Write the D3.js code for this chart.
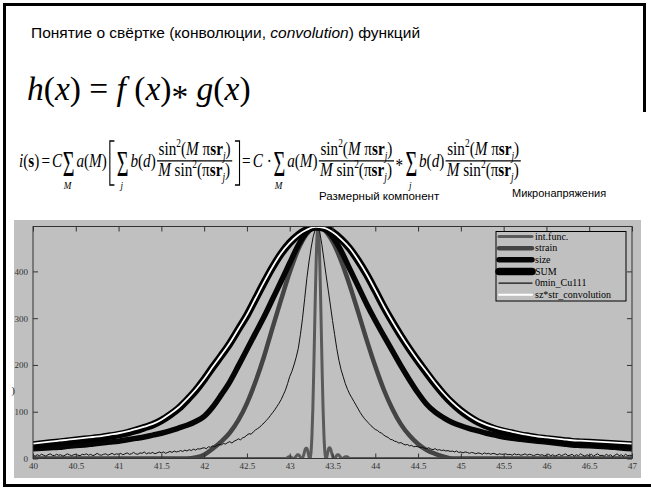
<!DOCTYPE html>
<html>
<head>
<meta charset="utf-8">
<script src="https://cdn.jsdelivr.net/npm/d3@7"></script>
<style>
  html, body { margin: 0; padding: 0; background: #fff; }
  svg { display: block; }
</style>
</head>
<body>
<script>
// ---------------- data ----------------
const xTicks = [40, 40.5, 41, 41.5, 42, 42.5, 43, 43.5, 44, 44.5, 45, 45.5, 46, 46.5, 47];
const yTicks = [0, 100, 200, 300, 400];
const seriesNames = ["int.func.", "strain", "size", "SUM", "0min_Cu111", "sz*str_convolution"];

// broad profiles, sampled every 0.1 deg from 40 to 47
const profileStart = 40, profileStep = 0.1;
const sumVals = [
  29, 31, 33, 35, 37, 39, 41, 43, 45, 48,
  51, 55, 60, 66, 72, 81, 93, 107, 125, 145,
  169, 195, 220, 246, 276, 306, 341, 376, 409, 438,
  461, 478, 489, 495, 493, 484, 469, 449, 423, 393,
  359, 324, 292, 262, 234, 208, 183, 159, 137, 118,
  102, 89, 78, 70, 63, 58, 54, 50, 47, 44,
  42, 40, 38, 36, 35, 34, 33, 32, 31, 30, 29
];
const convVals = [
  32, 34, 36, 38, 40, 42, 44, 46, 48, 51,
  54, 58, 63, 68, 74, 83, 95, 109, 127, 147,
  170, 196, 221, 247, 277, 307, 342, 377, 410, 439,
  461, 478, 489, 495, 493, 484, 469, 450, 424, 394,
  360, 325, 293, 263, 235, 209, 185, 161, 139, 120,
  104, 91, 80, 72, 66, 61, 57, 53, 50, 47,
  45, 43, 41, 39, 38, 37, 36, 35, 34, 33, 32
];
const sizeVals = [
  21, 22, 23, 24, 26, 28, 29, 31, 33, 35,
  37, 40, 43, 46, 50, 54, 59, 65, 71, 79,
  90, 110, 136, 164, 198, 233, 268, 303, 341, 379,
  418, 456, 484, 495, 491, 474, 444, 406, 368, 330,
  295, 262, 230, 198, 168, 140, 116, 99, 87, 77,
  70, 64, 59, 54, 50, 46, 43, 41, 39, 37,
  35, 33, 31, 29, 28, 27, 26, 25, 24, 22, 21
];
const strainVals = [
  0, 0, 0, 0, 0, 0, 0, 0, 0, 0,
  0, 0, 0, 0, 0, 0, 0, 0, 0, 2,
  8, 21, 36, 55, 82, 118, 164, 218, 280, 340,
  398, 447, 480, 495, 489, 464, 423, 371, 313, 253,
  197, 147, 106, 73, 49, 31, 18, 10, 4, 0,
  0, 0, 0, 0, 0, 0, 0, 0, 0, 0,
  0, 0, 0, 0, 0, 0, 0, 0, 0, 0, 0
];

// instrumental function around the peak, every 0.01 deg from 42.95
const instrStart = 42.95, instrStep = 0.01;
const instrVals = [
  0, 0, 1, 3, 4, 4, 4, 2, 1, 0,
  0, 1, 4, 6, 8, 8, 7, 4, 1, 0,
  1, 6, 12, 19, 22, 22, 17, 8, 1, 2,
  16, 50, 105, 180, 266, 353, 427, 477, 495, 477,
  427, 353, 266, 180, 105, 50, 16, 2, 1, 9,
  18, 23, 23, 19, 12, 6, 1, 0, 1, 4,
  7, 8, 8, 6, 4, 1, 0, 0, 1, 3,
  4, 4, 4, 3, 1, 0, 0
];

// measured pattern 0min_Cu111, every 0.025 deg from 40 to 47
const expStart = 40, expStep = 0.025;
const expVals = [
  7, 5, 8, 6, 9, 7, 5, 8, 10, 7, 6, 9, 7, 8, 5, 7, 10, 8, 6, 8,
  9, 7, 6, 9, 8, 10, 7, 9, 6, 8, 11, 8, 7, 9, 10, 7, 9, 11, 8, 10,
  9, 11, 8, 10, 12, 9, 10, 13, 10, 9, 12, 11, 14, 10, 12, 11, 13, 10, 12, 14,
  12, 14, 11, 13, 15, 13, 16, 14, 15, 17, 15, 18, 16, 19, 17, 20, 18, 21, 20, 22,
  23, 21, 25, 24, 27, 25, 28, 30, 29, 32, 31, 34, 36, 33, 37, 39, 42, 40, 44, 46,
  50, 53, 52, 57, 61, 64, 67, 72, 76, 81, 86, 92, 98, 104, 111, 118, 126, 136, 146, 160,
  175, 186, 200, 216, 235, 265, 300, 342, 385, 420, 450, 475, 490, 495, 485, 458, 425, 392, 360, 328,
  295, 265, 235, 210, 190, 175, 160, 148, 138, 130, 122, 114, 106, 98, 91, 85, 80, 75, 70, 66,
  62, 60, 56, 54, 50, 47, 45, 41, 40, 37, 36, 33, 34, 31, 29, 30, 27, 28, 25, 26,
  25, 23, 24, 22, 21, 23, 20, 19, 21, 18, 19, 17, 18, 16, 17, 15, 16, 14, 16, 13,
  14, 12, 14, 13, 11, 13, 12, 10, 12, 11, 9, 12, 10, 11, 9, 11, 10, 8, 10, 9,
  9, 10, 8, 9, 7, 10, 8, 9, 7, 8, 10, 7, 9, 8, 6, 8, 9, 7, 8, 6,
  7, 9, 6, 8, 5, 7, 9, 6, 8, 10, 6, 7, 9, 5, 8, 6, 10, 7, 5, 8,
  6, 9, 5, 8, 10, 6, 7, 5, 9, 6, 8, 4, 7, 10, 6, 8, 5, 9, 6, 7,
  6
];

// ---------------- helpers ----------------
const toPoints = (start, step, vals) => vals.map((v, i) => [+(start + i * step).toFixed(3), v]);
const serif = "'Liberation Serif','Times New Roman',Times,serif";
const sans = "'Liberation Sans',Arial,Helvetica,sans-serif";

const W = 651, H = 490;
const svg = d3.select("body").append("svg").attr("width", W).attr("height", H);
svg.append("rect").attr("width", W).attr("height", H).attr("fill", "#fff");

// ---------------- slide frame ----------------
const frame = svg.append("g").attr("stroke", "#000").attr("stroke-width", 3);
frame.append("line").attr("x1", 4.5).attr("y1", 3).attr("x2", 4.5).attr("y2", 487);
frame.append("line").attr("x1", 3).attr("y1", 4.5).attr("x2", 646).attr("y2", 4.5);
frame.append("line").attr("x1", 644.5).attr("y1", 3).attr("x2", 644.5).attr("y2", 112);
frame.append("line").attr("x1", 3).attr("y1", 485.5).attr("x2", 651).attr("y2", 485.5);

// ---------------- title ----------------
const title = svg.append("text").attr("x", 31).attr("y", 37.5)
  .attr("font-family", sans).attr("font-size", 15.5).attr("fill", "#000");
title.append("tspan").text("Понятие о свёртке (конволюции, ");
title.append("tspan").attr("font-style", "italic").text("convolution");
title.append("tspan").text(") функций");

// ---------------- text runs with italics, bold, indices ----------------
function textRun(g, x, y, segs, size) {
  const t = g.append("text").attr("x", x).attr("y", y)
    .attr("font-family", serif).attr("font-size", size).attr("fill", "#000");
  let shift = 0;
  segs.forEach(s => {
    const sp = t.append("tspan").text(s.t);
    if (s.i) sp.attr("font-style", "italic");
    if (s.b) sp.attr("font-weight", "bold");
    let target = 0;
    if (s.sup) { target = -0.42 * size; sp.attr("font-size", 0.62 * size); }
    if (s.sub) { target = 0.24 * size; sp.attr("font-size", 0.62 * size); }
    if (s.low) { target = s.low * size; }
    if (target !== shift) { sp.attr("dy", target - shift); shift = target; }
  });
  return t;
}
const widthOf = t => t.node().getBBox().width;

// h(x) = f(x) * g(x)
textRun(svg, 27, 100, [
  { t: "h", i: 1 }, { t: "(" }, { t: "x", i: 1 }, { t: ") = " },
  { t: "f", i: 1 }, { t: " (" }, { t: "x", i: 1 }, { t: ")" },
  { t: "*", low: 0.24 }, { t: " " },
  { t: "g", i: 1 }, { t: "(" }, { t: "x", i: 1 }, { t: ")" }
], 33.5);

// ---------------- long formula ----------------
const numSegs = [{ t: "sin" }, { t: "2", sup: 1 }, { t: "(" }, { t: "M", i: 1 }, { t: " \u03c0" },
  { t: "s", b: 1 }, { t: "r", b: 1 }, { t: "j", i: 1, sub: 1 }, { t: ")" }];
const denSegs = [{ t: "M", i: 1 }, { t: " sin" }, { t: "2", sup: 1 }, { t: "(\u03c0" },
  { t: "s", b: 1 }, { t: "r", b: 1 }, { t: "j", i: 1, sub: 1 }, { t: ")" }];

function buildFormula(g, x0, y0, f) {
  let cx = x0;
  const adv = (w, gap) => { cx += w + (gap || 0) * f; };
  const put = (segs, gap) => { const t = textRun(g, cx, y0, segs, f); adv(widthOf(t), gap); };
  const sigma = (sub) => {
    const sx = 0.7;
    const s = g.append("text").attr("font-family", serif).attr("font-size", 1.9 * f)
      .attr("transform", `translate(${cx},${y0 + 0.45 * f}) scale(${sx},1)`).text("\u03a3");
    const w = widthOf(s) * sx;
    const t = textRun(g, 0, y0 + 1.14 * f, [{ t: sub, i: 1 }], 0.6 * f);
    t.attr("x", cx + (w - widthOf(t)) / 2);
    adv(w, 0.12);
  };
  const bracket = (open) => {
    const top = y0 - 1.37 * f, bot = y0 + 0.95 * f, bw = 0.3 * f;
    const xa = open ? cx + 0.08 * f : cx + 0.08 * f + bw;
    const xb = open ? xa + bw : xa - bw;
    g.append("path").attr("d", `M${xb},${top}H${xa}V${bot}H${xb}`)
      .attr("fill", "none").attr("stroke", "#000").attr("stroke-width", 1.1);
    adv(bw, 0.24);
  };
  const frac = () => {
    const bar = y0 - 0.32 * f;
    const n = textRun(g, 0, bar - 0.3 * f, numSegs, f);
    const d = textRun(g, 0, bar + 0.8 * f, denSegs, f);
    const wn = widthOf(n), wd = widthOf(d);
    const w = Math.max(wn, wd) + 0.16 * f;
    n.attr("x", cx + (w - wn) / 2);
    d.attr("x", cx + (w - wd) / 2);
    g.append("line").attr("x1", cx).attr("x2", cx + w).attr("y1", bar).attr("y2", bar)
      .attr("stroke", "#000").attr("stroke-width", 0.9);
    adv(w, 0.1);
  };

  put([{ t: "i", i: 1 }, { t: "(" }, { t: "s", b: 1 }, { t: ")" }], 0.15);
  put([{ t: "=" }], 0.12);
  put([{ t: "C", i: 1 }], 0.02);
  sigma("M");
  put([{ t: "a", i: 1 }, { t: "(" }, { t: "M", i: 1 }, { t: ")" }], 0.12);
  bracket(true);
  sigma("j");
  put([{ t: "b", i: 1 }, { t: "(" }, { t: "d", i: 1 }, { t: ")" }], 0.08);
  frac();
  bracket(false);
  put([{ t: "=" }], 0.15);
  put([{ t: "C", i: 1 }, { t: " \u00b7 " }], 0.12);
  sigma("M");
  put([{ t: "a", i: 1 }, { t: "(" }, { t: "M", i: 1 }, { t: ")" }], 0.08);
  frac();
  put([{ t: "*", low: 0.24 }], 0.15);
  sigma("j");
  put([{ t: "b", i: 1 }, { t: "(" }, { t: "d", i: 1 }, { t: ")" }], 0.08);
  frac();
  return cx - x0;
}

// font size chosen so the formula spans x0..x1; its height is kept at a 19px body
const fx0 = 19, fx1 = 522, fy0 = 167, vUnit = 19;
let fg = svg.append("g");
const natural = buildFormula(fg, fx0, fy0, 19);
fg.remove();
const fSize = 19 * (fx1 - fx0) / natural;
fg = svg.append("g").attr("transform", `translate(0,${fy0}) scale(1,${vUnit / fSize}) translate(0,${-fy0})`);
buildFormula(fg, fx0, fy0, fSize);

svg.append("text").attr("x", 319).attr("y", 199.5).attr("font-family", sans)
  .attr("font-size", 11.5).attr("fill", "#000").text("Размерный компонент");
svg.append("text").attr("x", 512).attr("y", 197).attr("font-family", sans)
  .attr("font-size", 11).attr("fill", "#000").text("Микронапряжения");

// ---------------- chart ----------------
const panel = { x: 14, y: 220, w: 627, h: 258 };
const plot = { l: 33, r: 632, t: 226.5, b: 458.5 };
const grey = "#c0c0c0";

svg.append("rect").attr("x", panel.x).attr("y", panel.y).attr("width", panel.w)
  .attr("height", panel.h).attr("fill", grey);

const x = d3.scaleLinear().domain([40, 47]).range([plot.l, plot.r]);
const y = d3.scaleLinear().domain([0, 496]).range([plot.b, plot.t]);

svg.append("clipPath").attr("id", "plotClip").append("rect")
  .attr("x", plot.l).attr("y", plot.t).attr("width", plot.r - plot.l).attr("height", plot.b - plot.t);

const series = [
  { name: seriesNames[0], pts: [[40, 0], ...toPoints(instrStart, instrStep, instrVals), [47, 0]], color: "#5a5a5a", w: 3, curve: d3.curveMonotoneX, lw: 3 },
  { name: seriesNames[1], pts: toPoints(profileStart, profileStep, strainVals), color: "#444", w: 4.5, curve: d3.curveMonotoneX, lw: 4.5 },
  { name: seriesNames[2], pts: toPoints(profileStart, profileStep, sizeVals), color: "#050505", w: 5.5, curve: d3.curveMonotoneX, lw: 5.5 },
  { name: seriesNames[3], pts: toPoints(profileStart, profileStep, sumVals), color: "#000", w: 7.5, curve: d3.curveMonotoneX, lw: 7.5 },
  { name: seriesNames[4], pts: toPoints(expStart, expStep, expVals), color: "#111", w: 1, curve: d3.curveLinear, lw: 1.4 },
  { name: seriesNames[5], pts: toPoints(profileStart, profileStep, convVals), color: "#fff", w: 1.8, curve: d3.curveMonotoneX, lw: 2 }
];

const lines = svg.append("g").attr("clip-path", "url(#plotClip)");
series.forEach(s => {
  lines.append("path").datum(s.pts)
    .attr("d", d3.line().x(d => x(d[0])).y(d => y(d[1])).curve(s.curve))
    .attr("fill", "none").attr("stroke", s.color).attr("stroke-width", s.w)
    .attr("stroke-linejoin", "round");
});

// axes with inward ticks on all four sides
const axisColor = "#333";
function styleAxis(g) {
  g.select(".domain").remove();
  g.selectAll(".tick line").attr("stroke", axisColor);
  g.selectAll(".tick text").attr("font-family", serif).attr("font-size", 9).attr("fill", "#333");
}
svg.append("g").attr("transform", `translate(0,${plot.b})`)
  .call(d3.axisBottom(x).tickValues(xTicks).tickSize(-5).tickPadding(4).tickFormat(d => String(d)))
  .call(styleAxis);
svg.append("g").attr("transform", `translate(0,${plot.t})`)
  .call(d3.axisTop(x).tickValues(xTicks).tickSize(-5).tickFormat(""))
  .call(styleAxis);
svg.append("g").attr("transform", `translate(${plot.l},0)`)
  .call(d3.axisLeft(y).tickValues(yTicks).tickSize(-5).tickPadding(5).tickFormat(d => String(d)))
  .call(styleAxis);
svg.append("g").attr("transform", `translate(${plot.r},0)`)
  .call(d3.axisRight(y).tickValues(yTicks).tickSize(-5).tickFormat(""))
  .call(styleAxis);
svg.append("rect").attr("x", plot.l).attr("y", plot.t).attr("width", plot.r - plot.l)
  .attr("height", plot.b - plot.t).attr("fill", "none").attr("stroke", axisColor).attr("stroke-width", 1);

// fragment of the y axis label
svg.append("text").attr("x", 13).attr("y", 394).attr("text-anchor", "middle")
  .attr("font-family", serif).attr("font-size", 11).attr("fill", "#222").text(")");

// legend
const leg = { x: 496, y: 231.5, w: 130, h: 69.5, row0: 236.5, dy: 11.65 };
const lg = svg.append("g");
lg.append("rect").attr("x", leg.x).attr("y", leg.y).attr("width", leg.w).attr("height", leg.h)
  .attr("fill", grey).attr("stroke", "#000").attr("stroke-width", 1);
series.forEach((s, i) => {
  const yy = leg.row0 + i * leg.dy;
  lg.append("line").attr("x1", 499).attr("x2", 532).attr("y1", yy).attr("y2", yy)
    .attr("stroke", s.color).attr("stroke-width", s.lw).attr("stroke-linecap", "round");
  lg.append("text").attr("x", 535).attr("y", yy + 3.3).attr("font-family", serif)
    .attr("font-size", 10).attr("fill", "#000").text(s.name);
});
</script>
</body>
</html>
